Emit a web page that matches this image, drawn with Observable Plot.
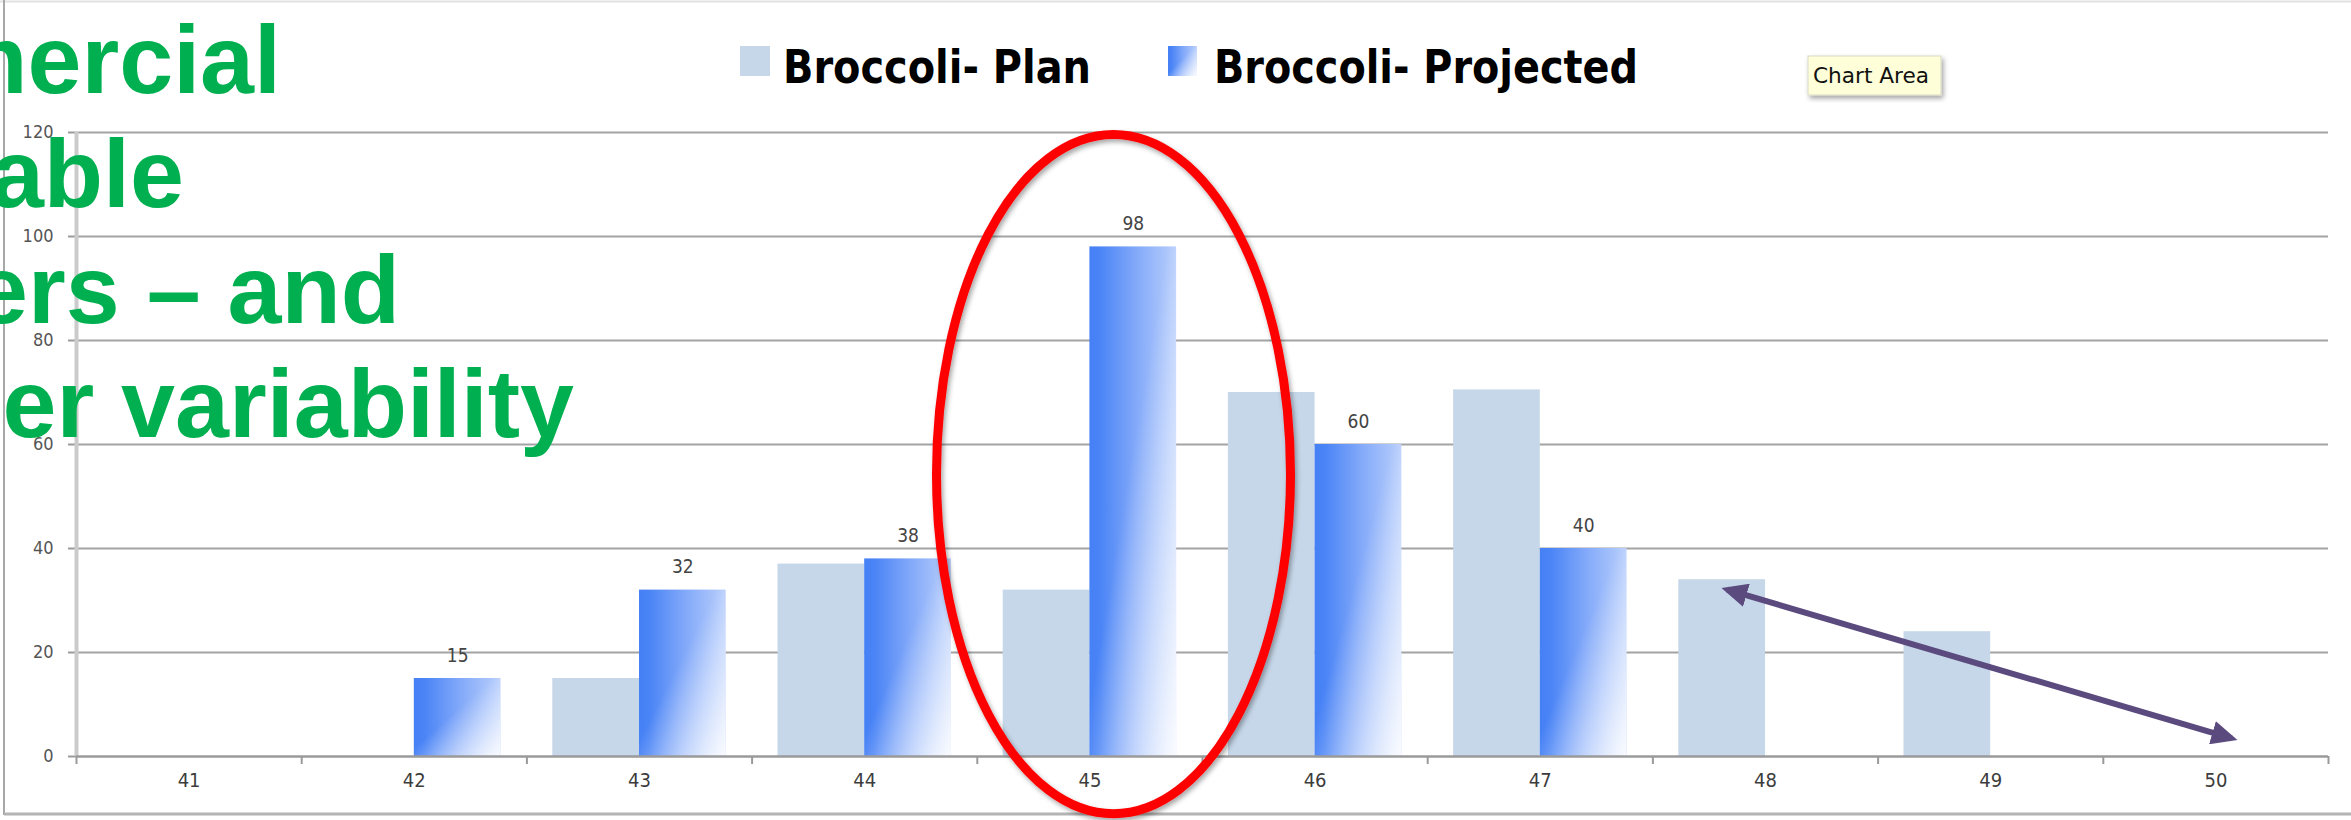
<!DOCTYPE html>
<html>
<head>
<meta charset="utf-8">
<script src="https://cdn.jsdelivr.net/npm/d3@7"></script>
<script src="https://cdn.jsdelivr.net/npm/@observablehq/plot@0.6"></script>
<style>
  html, body { margin: 0; padding: 0; background: #fff; overflow: hidden; }
  #chart svg { display: block; }
  #chart g[aria-label^="y-axis"] text {
    fill: #555; font-family: "DejaVu Sans Condensed", "DejaVu Sans", sans-serif; font-size: 18px;
  }
  #chart g[aria-label^="x-axis"] line, #chart g[aria-label^="x-axis"] path,
  #chart g[aria-label^="y-axis"] line, #chart g[aria-label^="y-axis"] path {
    stroke: #9a9a9a; stroke-width: 2px;
  }
</style>
</head>
<body>
<div id="chart"></div>
<script>
// ---------- data ----------
const weeks = [41, 42, 43, 44, 45, 46, 47, 48, 49, 50];
const planValues = [null, null, 15, 37, 32, 70, 70.5, 34, 24, null];
const projectedValues = [null, 15, 32, 38, 98, 60, 40, null, null, null];
const yTicks = [0, 20, 40, 60, 80, 100, 120];
const seriesNames = ["Broccoli- Plan", "Broccoli- Projected"];
const titleLines = ["mercial", "able", "ers – and", "her variability"];
const tooltipText = "Chart Area";
// annotations (in data units)
const highlightEllipse = { week: 45.107, value: 54.2, rWeek: 0.786, rValue: 65.3 };
const trendArrow = [{ x1: 47.83, y1: 32.1, x2: 50.07, y2: 3.5 }];

// ---------- derived tables ----------
const planRows = weeks.map((w, i) => ({ week: w, value: planValues[i] })).filter(d => d.value != null);
const projRows = weeks.map((w, i) => ({ week: w, value: projectedValues[i] })).filter(d => d.value != null);
const boundaries = weeks.map(w => w - 0.5).concat([weeks[weeks.length - 1] + 0.5]);

const FONT_C = '"DejaVu Sans Condensed", "DejaVu Sans", sans-serif';
const PLAN_FILL = "#C6D7E9";
const BW = 0.385; // bar width in week units

const chart = Plot.plot({
  width: 2351,
  height: 820,
  marginLeft: 76,
  marginRight: 23,
  marginTop: 132,
  marginBottom: 64,
  style: { background: "white", color: "#9a9a9a", fontFamily: FONT_C, fontSize: "18px", overflow: "visible" },
  x: { type: "linear", domain: [boundaries[0], boundaries[boundaries.length - 1]], ticks: boundaries,
       tickFormat: () => "", tickSize: 8, label: null },
  y: { domain: [0, 120], ticks: yTicks, tickSize: 8, tickPadding: 15, label: null },
  marks: [
    Plot.ruleY(yTicks.filter(v => v > 0), { stroke: "#a3a3a3", strokeWidth: 2 }),
    Plot.rectY(planRows, { x1: d => d.week - BW, x2: d => d.week, y: "value", fill: PLAN_FILL }),
    Plot.rectY(projRows, { x1: d => d.week, x2: d => d.week + BW, y: "value", fill: "url(#projGrad)" }),
    Plot.rectY(projRows, { x1: d => d.week, x2: d => d.week + BW, y: "value", fill: "url(#projShade)" }),
    Plot.ruleX([boundaries[0]], { stroke: "#cbcbcb", strokeWidth: 4 }),
    Plot.ruleY([0], { stroke: "#9a9a9a", strokeWidth: 2.5 }),
    Plot.text(projRows, { x: d => d.week + BW / 2, y: "value", text: d => String(d.value), dy: -23,
                          fill: "#444", fontSize: 19, fontFamily: FONT_C }),
    Plot.text(weeks, { x: d => d, frameAnchor: "bottom", dy: 30, text: d => String(d),
                       fill: "#3c3c3c", fontSize: 20, fontFamily: FONT_C }),
    Plot.link(trendArrow, { x1: "x1", y1: "y1", x2: "x2", y2: "y2", stroke: "#5B4A7E", strokeWidth: 6 })
  ]
});
document.getElementById("chart").appendChild(chart);

// ---------- decorations ----------
const svg = d3.select(chart);
const xs = chart.scale("x"), ys = chart.scale("y");
const defs = svg.insert("defs", ":first-child");

const g1 = defs.append("linearGradient").attr("id", "projGrad")
  .attr("x1", 0).attr("y1", 0).attr("x2", 1).attr("y2", 0);
[[0, "#4580F5"], [0.12, "#4A84F6"], [0.5, "#7EA6F9"], [1, "#B9CFFC"]]
  .forEach(([o, c]) => g1.append("stop").attr("offset", o).attr("stop-color", c));

const g2 = defs.append("linearGradient").attr("id", "projShade")
  .attr("x1", 0).attr("y1", 0).attr("x2", 1).attr("y2", 1);
[[0, 0], [0.45, 0], [1, 0.92]]
  .forEach(([o, a]) => g2.append("stop").attr("offset", o).attr("stop-color", "#fff").attr("stop-opacity", a));

const marker = defs.append("marker").attr("id", "arrowHead")
  .attr("viewBox", "0 0 26 24").attr("markerWidth", 26).attr("markerHeight", 24)
  .attr("refX", 20).attr("refY", 12).attr("orient", "auto-start-reverse")
  .attr("markerUnits", "userSpaceOnUse");
marker.append("path").attr("d", "M0,0L26,12L0,24Z").attr("fill", "#5B4A7E");

const shadow = defs.append("filter").attr("id", "softShadow")
  .attr("x", "-20%").attr("y", "-20%").attr("width", "140%").attr("height", "140%");
shadow.append("feDropShadow").attr("dx", 2).attr("dy", 3).attr("stdDeviation", 2.5)
  .attr("flood-color", "#000").attr("flood-opacity", 0.35);

svg.selectAll('g[aria-label="link"] path')
  .attr("marker-start", "url(#arrowHead)").attr("marker-end", "url(#arrowHead)");

// chart-area frame
svg.append("line").attr("x1", 0).attr("x2", 2351).attr("y1", 1.5).attr("y2", 1.5)
  .attr("stroke", "#e2e2e2").attr("stroke-width", 2);
svg.append("line").attr("x1", 4).attr("x2", 4).attr("y1", 0).attr("y2", 815)
  .attr("stroke", "#a8a8a8").attr("stroke-width", 2);
svg.append("line").attr("x1", 4).attr("x2", 2351).attr("y1", 814).attr("y2", 814)
  .attr("stroke", "#b4b4b4").attr("stroke-width", 3);

// red highlight ellipse
svg.append("ellipse")
  .attr("cx", xs.apply(highlightEllipse.week))
  .attr("cy", ys.apply(highlightEllipse.value))
  .attr("rx", xs.apply(highlightEllipse.week + highlightEllipse.rWeek) - xs.apply(highlightEllipse.week))
  .attr("ry", ys.apply(0) - ys.apply(highlightEllipse.rValue))
  .attr("fill", "none").attr("stroke", "#FF0000").attr("stroke-width", 9)
  .attr("filter", "url(#softShadow)");

// legend
const legend = svg.append("g").attr("text-anchor", "start");
legend.append("rect").attr("x", 740).attr("y", 46).attr("width", 30).attr("height", 30).attr("fill", PLAN_FILL);
legend.append("rect").attr("x", 1168).attr("y", 46).attr("width", 29).attr("height", 30).attr("fill", "url(#projGrad)");
legend.append("rect").attr("x", 1168).attr("y", 46).attr("width", 29).attr("height", 30).attr("fill", "url(#projShade)");
[[seriesNames[0], 783, 308], [seriesNames[1], 1214, 424]].forEach(([t, x, len]) =>
  legend.append("text").attr("x", x).attr("y", 83).text(t)
    .attr("text-anchor", "start")
    .attr("fill", "#000").attr("font-weight", "bold").attr("font-size", 46)
    .attr("font-family", FONT_C)
    .attr("textLength", len).attr("lengthAdjust", "spacingAndGlyphs"));

// "Chart Area" tooltip
const tip = svg.append("g").attr("text-anchor", "start");
tip.append("rect").attr("x", 1808).attr("y", 56).attr("width", 133).attr("height", 39)
  .attr("fill", "#FEFED9").attr("stroke", "#d9d9c4").attr("stroke-width", 1)
  .attr("filter", "url(#softShadow)");
tip.append("text").attr("x", 1813).attr("y", 83).text(tooltipText)
  .attr("text-anchor", "start")
  .attr("fill", "#111").attr("font-size", 22).attr("font-family", FONT_C)
  .attr("textLength", 116).attr("lengthAdjust", "spacingAndGlyphs");

// green slide title (clipped on the left in the reference)
const titleLayout = [[281, 93], [184, 207], [400, 323], [574, 437]];
titleLines.forEach((t, i) =>
  svg.append("text").attr("x", titleLayout[i][0]).attr("y", titleLayout[i][1])
    .attr("text-anchor", "end").text(t)
    .attr("fill", "#00B050").attr("font-weight", "bold").attr("font-size", 97)
    .attr("font-family", '"Liberation Sans", Arial, sans-serif'));
</script>
</body>
</html>
